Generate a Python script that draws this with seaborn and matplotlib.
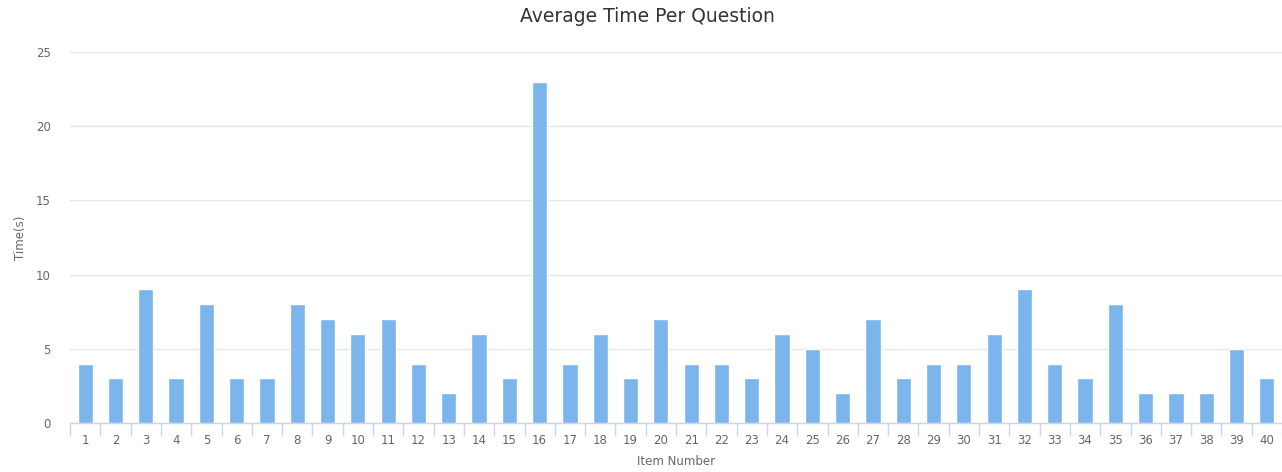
import matplotlib
matplotlib.use("Agg")
import matplotlib.pyplot as plt
import seaborn as sns
import pandas as pd
import numpy as np
from matplotlib.ticker import FixedLocator

items = [str(i) for i in range(1, 41)]
times = [4, 3, 9, 3, 8, 3, 3, 8, 7, 6,
         7, 4, 2, 6, 3, 23, 4, 6, 3, 7,
         4, 4, 3, 6, 5, 2, 7, 3, 4, 4,
         6, 9, 4, 3, 8, 2, 2, 2, 5, 3]
y_ticks = [0, 5, 10, 15, 20, 25]

df = pd.DataFrame({"Item Number": items, "Time(s)": times})

sns.set_style("white")
plt.rcParams['font.family'] = ['DejaVu Sans']

fig = plt.figure(figsize=(12.82, 4.72), dpi=100)
ax = fig.add_axes([70 / 1282, 1 - 423 / 472, 1 - 70 / 1282, (423 - 52) / 472])

sns.barplot(data=df, x="Item Number", y="Time(s)", color="#7cb5ec",
            width=0.5, saturation=1, ax=ax, zorder=3)

ax.set_xlim(-0.5, 39.5)
ax.set_ylim(0, 25)
ax.set_yticks(y_ticks)
ax.grid(axis="y", color="#e6e6e6", linewidth=1, zorder=0)
ax.set_axisbelow(True)

for s in ["top", "right", "left"]:
    ax.spines[s].set_visible(False)
ax.spines["bottom"].set_color("#ccd6eb")
ax.spines["bottom"].set_linewidth(1)

# category separators as minor ticks
ax.xaxis.set_minor_locator(FixedLocator(np.arange(-0.5, 40, 1)))
ax.tick_params(axis="x", which="major", bottom=False, length=0,
               labelsize=8.5, labelcolor="#666666", pad=8)
ax.tick_params(axis="x", which="minor", bottom=True, length=9,
               color="#ccd6eb", width=1)
ax.tick_params(axis="y", length=0, labelsize=8.5, labelcolor="#666666", pad=14)

ax.set_xlabel("Item Number", fontsize=8.5, color="#666666", labelpad=6)
ax.set_ylabel("Time(s)", fontsize=8.5, color="#666666", labelpad=6)
fig.suptitle("Average Time Per Question", fontsize=13.5, color="#333333",
             x=0.505, y=1 - 17 / 472, va="center")

fig.savefig("out.png", dpi=100)
